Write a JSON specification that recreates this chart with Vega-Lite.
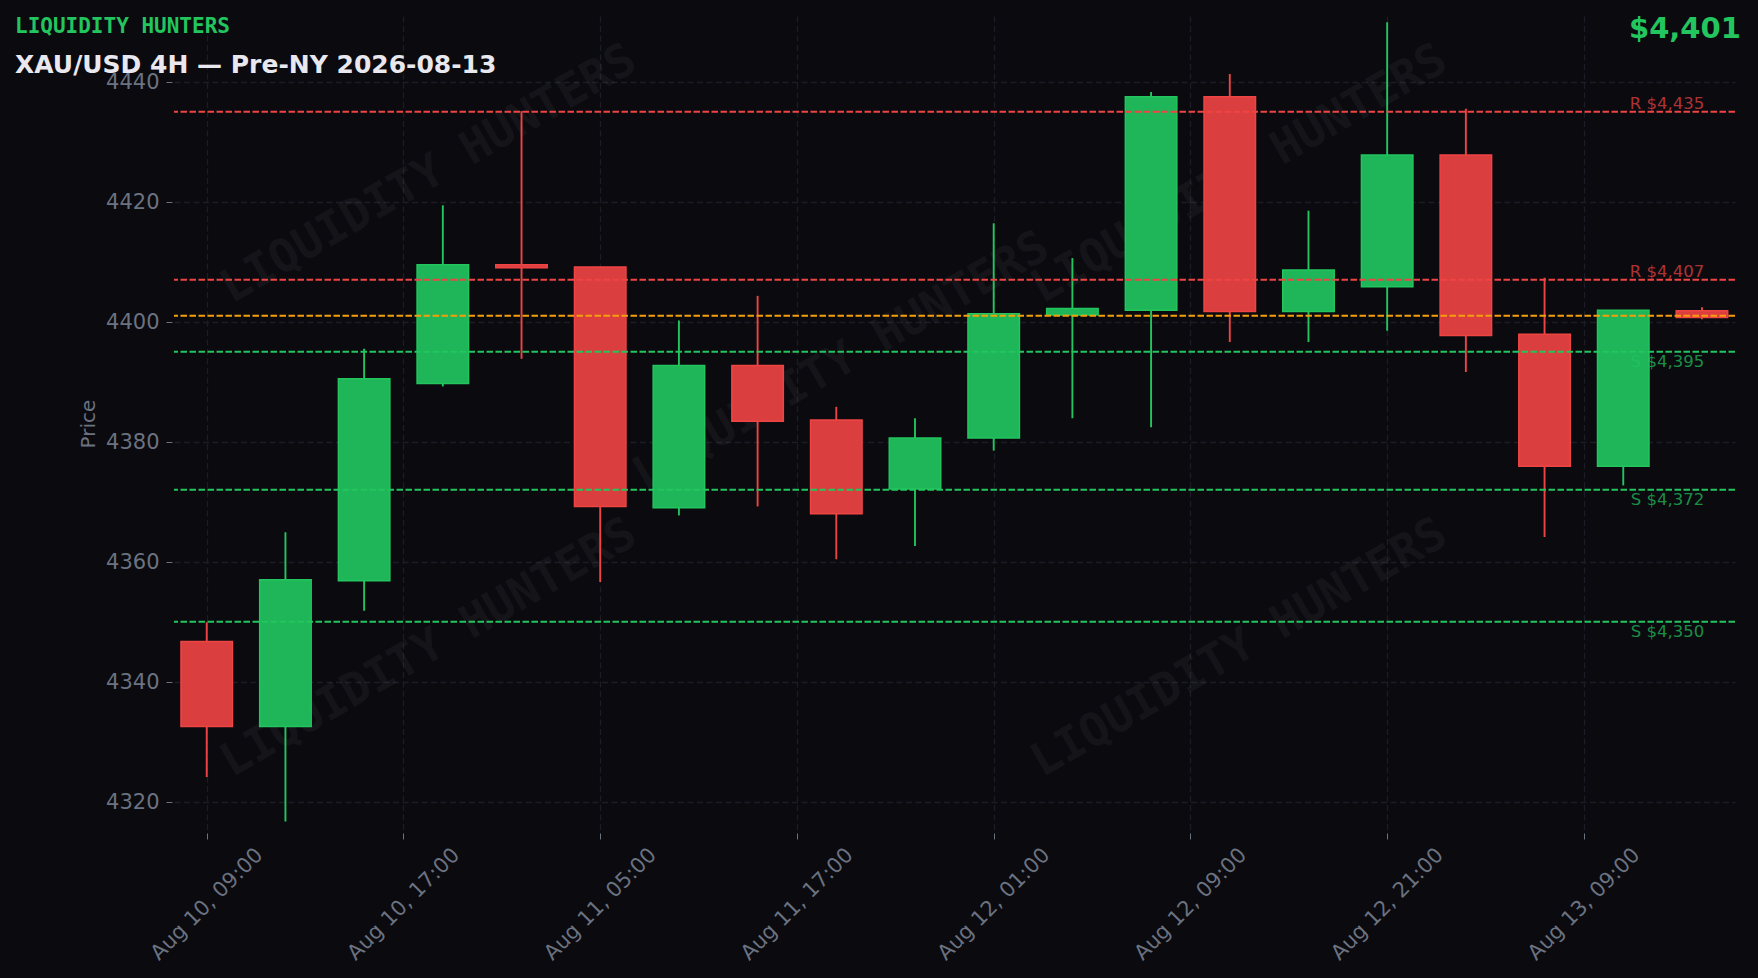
{
  "$schema": "https://vega.github.io/schema/vega-lite/v6.json",
  "width": 1561,
  "height": 815,
  "autosize": {"type": "none"},
  "padding": {"left": 174, "top": 16, "right": 23, "bottom": 147},
  "background": "#0a0a0f",
  "title": {
    "text": "LIQUIDITY HUNTERS",
    "subtitle": "XAU/USD 4H — Pre-NY 2026-08-13",
    "frame": "group",
    "anchor": "start",
    "dx": -159,
    "dy": 67,
    "font": "DejaVu Sans Mono",
    "fontSize": 21,
    "fontWeight": "bold",
    "color": "#22c55e",
    "subtitleFont": "DejaVu Sans",
    "subtitleFontSize": 25,
    "subtitleFontWeight": "bold",
    "subtitleColor": "#e8e8ee",
    "subtitlePadding": 16
  },
  "config": {
    "view": {"stroke": null},
    "text": {"font": "DejaVu Sans"},
    "axis": {
      "labelFont": "DejaVu Sans",
      "titleFont": "DejaVu Sans",
      "labelColor": "#6b7280",
      "titleColor": "#6b7280",
      "tickColor": "#6b7280",
      "gridColor": "#1c1c26",
      "gridDash": [6, 3.5],
      "gridWidth": 1.3,
      "domain": false
    }
  },
  "datasets": {
    "candles": [
      {"slot": 0, "time": "Aug 10, 09:00", "open": 4346.7, "close": 4332.5, "high": 4349.9, "low": 4324.1, "dir": "down"},
      {"slot": 1, "time": "Aug 10, 13:00", "open": 4332.5, "close": 4357.0, "high": 4364.9, "low": 4316.7, "dir": "up"},
      {"slot": 2, "time": "Aug 10, 17:00", "open": 4356.8, "close": 4390.5, "high": 4395.5, "low": 4351.8, "dir": "up"},
      {"slot": 3, "time": "Aug 10, 21:00", "open": 4389.7, "close": 4409.5, "high": 4419.4, "low": 4389.2, "dir": "up"},
      {"slot": 4, "time": "Aug 11, 01:00", "open": 4409.5, "close": 4409.0, "high": 4435.1, "low": 4393.8, "dir": "down"},
      {"slot": 5, "time": "Aug 11, 05:00", "open": 4409.1, "close": 4369.2, "high": 4409.1, "low": 4356.6, "dir": "down"},
      {"slot": 6, "time": "Aug 11, 09:00", "open": 4369.0, "close": 4392.7, "high": 4400.2, "low": 4367.7, "dir": "up"},
      {"slot": 7, "time": "Aug 11, 13:00", "open": 4392.7, "close": 4383.4, "high": 4404.3, "low": 4369.2, "dir": "down"},
      {"slot": 8, "time": "Aug 11, 17:00", "open": 4383.6, "close": 4368.0, "high": 4385.8, "low": 4360.4, "dir": "down"},
      {"slot": 9, "time": "Aug 11, 21:00", "open": 4372.1, "close": 4380.6, "high": 4383.9, "low": 4362.6, "dir": "up"},
      {"slot": 10, "time": "Aug 12, 01:00", "open": 4380.6, "close": 4401.3, "high": 4416.4, "low": 4378.5, "dir": "up"},
      {"slot": 11, "time": "Aug 12, 05:00", "open": 4401.1, "close": 4402.2, "high": 4410.6, "low": 4383.9, "dir": "up"},
      {"slot": 12, "time": "Aug 12, 09:00", "open": 4401.9, "close": 4437.5, "high": 4438.3, "low": 4382.4, "dir": "up"},
      {"slot": 13, "time": "Aug 12, 13:00", "open": 4437.5, "close": 4401.7, "high": 4441.3, "low": 4396.6, "dir": "down"},
      {"slot": 14, "time": "Aug 12, 17:00", "open": 4401.7, "close": 4408.6, "high": 4418.5, "low": 4396.6, "dir": "up"},
      {"slot": 15, "time": "Aug 12, 21:00", "open": 4405.8, "close": 4427.8, "high": 4449.9, "low": 4398.5, "dir": "up"},
      {"slot": 16, "time": "Aug 13, 01:00", "open": 4427.8, "close": 4397.7, "high": 4435.5, "low": 4391.6, "dir": "down"},
      {"slot": 17, "time": "Aug 13, 05:00", "open": 4397.9, "close": 4375.9, "high": 4407.3, "low": 4364.1, "dir": "down"},
      {"slot": 18, "time": "Aug 13, 09:00", "open": 4375.9, "close": 4401.9, "high": 4401.9, "low": 4372.7, "dir": "up"},
      {"slot": 19, "time": "Aug 13, 13:00", "open": 4401.8, "close": 4400.7, "high": 4402.4, "low": 4400.4, "dir": "down"}
    ],
    "levels": [
      {"level": 4435, "kind": "R", "label": "R $4,435"},
      {"level": 4407, "kind": "R", "label": "R $4,407"},
      {"level": 4401, "kind": "P", "label": ""},
      {"level": 4395, "kind": "S", "label": "S $4,395"},
      {"level": 4372, "kind": "S", "label": "S $4,372"},
      {"level": 4350, "kind": "S", "label": "S $4,350"}
    ],
    "marks": [
      {"slot": 2.82, "price": 4424.6, "label": "LIQUIDITY HUNTERS"},
      {"slot": 13.12, "price": 4424.6, "label": "LIQUIDITY HUNTERS"},
      {"slot": 8.06, "price": 4393.4, "label": "LIQUIDITY HUNTERS"},
      {"slot": 2.82, "price": 4345.6, "label": "LIQUIDITY HUNTERS"},
      {"slot": 13.12, "price": 4345.6, "label": "LIQUIDITY HUNTERS"}
    ]
  },
  "data": {"name": "candles"},
  "layer": [
    {
      "data": {"name": "marks"},
      "mark": {"type": "text", "font": "DejaVu Sans Mono", "fontWeight": "bold", "fontSize": 46, "angle": -30, "align": "center", "baseline": "middle", "opacity": 0.04},
      "encoding": {
        "x": {"field": "slot", "type": "quantitative", "scale": {"domain": [-0.416, 19.42], "nice": false, "zero": false, "padding": 0},
          "axis": {
            "title": null,
            "values": [0, 2.5, 5, 7.5, 10, 12.5, 15, 17.5],
            "labelExpr": "['Aug 10, 09:00','Aug 10, 17:00','Aug 11, 05:00','Aug 11, 17:00','Aug 12, 01:00','Aug 12, 09:00','Aug 12, 21:00','Aug 13, 09:00'][round(datum.value / 2.5)]",
            "labelAngle": -45,
            "labelAlign": "center",
            "labelBaseline": "middle",
            "labelPadding": 65,
            "labelFontSize": 21,
            "labelOverlap": false,
            "labelBound": false,
            "labelFlush": false,
            "tickSize": 6,
            "offset": 2
          }
        },
        "y": {"field": "price", "type": "quantitative", "scale": {"domain": [4315.1, 4450.95], "nice": false, "zero": false},
          "axis": {
            "title": "Price",
            "titleFontSize": 20,
            "titleFontWeight": "normal",
            "titlePadding": 7,
            "values": [4320, 4340, 4360, 4380, 4400, 4420, 4440],
            "format": "d",
            "labelFontSize": 21,
            "labelPadding": 7,
            "labelOffset": 1,
            "tickSize": 6,
            "offset": 2
          }
        },
        "text": {"field": "label"},
        "color": {"value": "#ffffff"}
      }
    },
    {
      "mark": {"type": "rule", "strokeWidth": 1.9},
      "encoding": {
        "x": {"field": "slot", "type": "quantitative", "scale": {"domain": [-0.416, 19.42], "nice": false, "zero": false, "padding": 0}},
        "y": {"field": "low", "type": "quantitative", "scale": {"domain": [4315.1, 4450.95], "nice": false, "zero": false}},
        "y2": {"field": "high"},
        "color": {"field": "dir", "type": "nominal", "scale": {"domain": ["up", "down", "R", "S", "P"], "range": ["#22c55e", "#ef4444", "#ef4444", "#22c55e", "#f59e0b"]}, "legend": null}
      }
    },
    {
      "mark": {"type": "bar", "orient": "vertical", "size": 51.5, "strokeWidth": 1.5},
      "encoding": {
        "x": {"field": "slot", "type": "quantitative", "scale": {"domain": [-0.416, 19.42], "nice": false, "zero": false, "padding": 0}},
        "y": {"field": "open", "type": "quantitative", "scale": {"domain": [4315.1, 4450.95], "nice": false, "zero": false}},
        "y2": {"field": "close"},
        "fill": {"field": "dir", "type": "nominal", "scale": {"domain": ["up", "down"], "range": ["#1fb559", "#db3e3f"]}, "legend": null},
        "stroke": {"field": "dir", "type": "nominal", "scale": {"domain": ["up", "down"], "range": ["#22c55e", "#ef4444"]}, "legend": null}
      }
    },
    {
      "data": {"name": "levels"},
      "mark": {"type": "rule", "strokeWidth": 2, "strokeDash": [6.5, 2.5]},
      "encoding": {
        "y": {"field": "level", "type": "quantitative", "scale": {"domain": [4315.1, 4450.95], "nice": false, "zero": false}},
        "color": {"field": "kind", "type": "nominal", "scale": {"domain": ["up", "down", "R", "S", "P"], "range": ["#22c55e", "#ef4444", "#ef4444", "#22c55e", "#f59e0b"]}, "legend": null}
      }
    },
    {
      "data": {"name": "levels"},
      "transform": [{"filter": "datum.kind === 'R'"}],
      "mark": {"type": "text", "fontSize": 16.5, "align": "right", "baseline": "middle", "dy": -8, "opacity": 0.7},
      "encoding": {
        "x": {"datum": 19.03, "type": "quantitative", "scale": {"domain": [-0.416, 19.42], "nice": false, "zero": false, "padding": 0}},
        "y": {"field": "level", "type": "quantitative", "scale": {"domain": [4315.1, 4450.95], "nice": false, "zero": false}},
        "text": {"field": "label"},
        "color": {"value": "#ef4444"}
      }
    },
    {
      "data": {"name": "levels"},
      "transform": [{"filter": "datum.kind === 'S'"}],
      "mark": {"type": "text", "fontSize": 16.5, "align": "right", "baseline": "middle", "dy": 10, "opacity": 0.7},
      "encoding": {
        "x": {"datum": 19.03, "type": "quantitative", "scale": {"domain": [-0.416, 19.42], "nice": false, "zero": false, "padding": 0}},
        "y": {"field": "level", "type": "quantitative", "scale": {"domain": [4315.1, 4450.95], "nice": false, "zero": false}},
        "text": {"field": "label"},
        "color": {"value": "#22c55e"}
      }
    },
    {
      "data": {"values": [{"label": "$4,401"}]},
      "mark": {"type": "text", "fontSize": 29, "fontWeight": "bold", "align": "right", "baseline": "middle"},
      "encoding": {
        "x": {"datum": 19.495, "type": "quantitative", "scale": {"domain": [-0.416, 19.42], "nice": false, "zero": false, "padding": 0}},
        "y": {"datum": 4448.8, "type": "quantitative", "scale": {"domain": [4315.1, 4450.95], "nice": false, "zero": false}},
        "text": {"field": "label"},
        "color": {"value": "#22c55e"}
      }
    }
  ]
}
